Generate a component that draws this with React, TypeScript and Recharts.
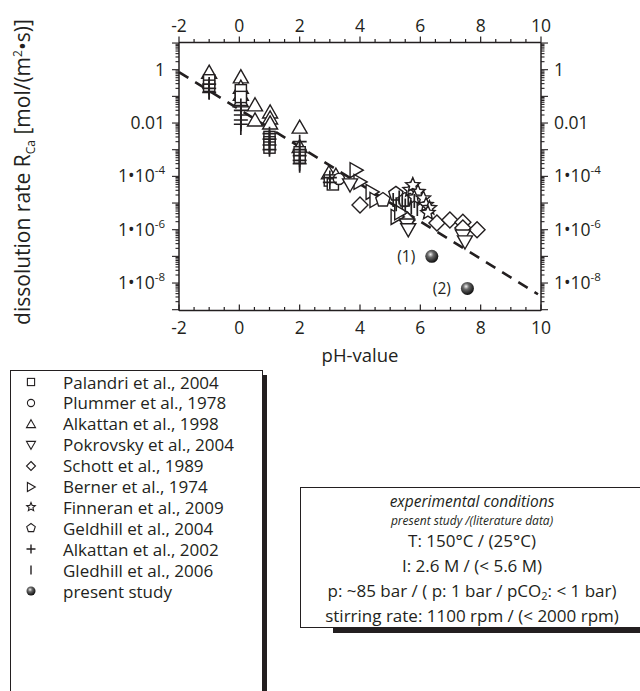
import React from "react";
import { ScatterChart, Scatter, XAxis, YAxis, LabelList } from "recharts";

const INK = "#231f20";
const FONT = "'Open Sans', Lato, sans-serif";

// x: pH-value, y: dissolution rate R_Ca in mol/(m2 s)
const palandri = [
  { ph: -1.0, r: 0.4 }, { ph: -1.0, r: 0.25 },
  { ph: 0.05, r: 0.17 }, { ph: 0.05, r: 0.095 },
  { ph: 1.0, r: 0.003 }, { ph: 1.0, r: 0.0019 }, { ph: 1.0, r: 0.0012 },
  { ph: 2.0, r: 8e-4 }, { ph: 2.0, r: 5e-4 },
  { ph: 3.0, r: 7e-5 }, { ph: 3.1, r: 5e-5 },
];
const plummer = [{ ph: 3.3, r: 8e-5 }, { ph: 5.5, r: 1.2e-5 }];
const alkattan98 = [
  { ph: -1.0, r: 0.8 },
  { ph: 0.05, r: 0.54 }, { ph: 0.05, r: 0.22 }, { ph: 0.05, r: 0.12 }, { ph: 0.05, r: 0.068 },
  { ph: 0.52, r: 0.048 }, { ph: 0.52, r: 0.013 },
  { ph: 1.02, r: 0.026 }, { ph: 1.02, r: 0.0155 }, { ph: 1.02, r: 0.01 },
  { ph: 2.0, r: 0.007 }, { ph: 2.0, r: 0.0013 },
  { ph: 2.97, r: 1.35e-4 }, { ph: 3.2, r: 1.1e-4 },
];
const pokrovsky = [
  { ph: 3.67, r: 4.8e-5 }, { ph: 5.56, r: 1.5e-6 }, { ph: 5.6, r: 1.0e-6 },
  { ph: 7.41, r: 5.8e-7 }, { ph: 7.48, r: 3.5e-7 },
];
const schott = [
  { ph: 4.0, r: 8.5e-6 }, { ph: 5.56, r: 2.3e-6 }, { ph: 6.55, r: 1.8e-6 },
  { ph: 6.98, r: 2.3e-6 }, { ph: 7.41, r: 1.9e-6 }, { ph: 7.41, r: 1.15e-6 }, { ph: 7.88, r: 1.0e-6 },
];
const berner = [
  { ph: 3.87, r: 1.7e-4 }, { ph: 4.0, r: 6.2e-5 }, { ph: 4.4, r: 2.6e-5 },
  { ph: 4.53, r: 1.3e-5 }, { ph: 5.23, r: 3e-6 }, { ph: 5.35, r: 4.5e-6 },
];
const finneran = [
  { ph: 5.66, r: 3.1e-5 }, { ph: 5.75, r: 4.7e-5 }, { ph: 5.92, r: 2.6e-5 }, { ph: 5.8, r: 1.6e-5 },
  { ph: 6.1, r: 1.5e-5 }, { ph: 6.19, r: 8.5e-6 }, { ph: 6.3, r: 6.5e-6 }, { ph: 6.25, r: 4.3e-6 },
];
const geldhill04 = [{ ph: 4.76, r: 1.3e-5 }, { ph: 5.19, r: 2.2e-5 }, { ph: 5.49, r: 1.3e-5 }];
const alkattan02 = [
  { ph: -1.0, r: 0.29 }, { ph: -1.0, r: 0.2 }, { ph: -1.0, r: 0.14 },
  { ph: 0.05, r: 0.045 }, { ph: 0.05, r: 0.03 }, { ph: 0.05, r: 0.02 }, { ph: 0.05, r: 0.013 }, { ph: 0.05, r: 0.009 },
  { ph: 1.0, r: 0.004 }, { ph: 1.0, r: 0.0025 }, { ph: 1.0, r: 0.0015 }, { ph: 1.0, r: 0.001 },
  { ph: 2.0, r: 0.002 }, { ph: 2.0, r: 0.001 }, { ph: 2.0, r: 6e-4 }, { ph: 2.0, r: 4e-4 }, { ph: 2.0, r: 3e-4 },
  { ph: 3.0, r: 9e-5 }, { ph: 3.0, r: 6e-5 },
];
const gledhill06 = [
  { ph: -1.0, r: 0.25 }, { ph: -1.0, r: 0.14 },
  { ph: 0.05, r: 0.031 }, { ph: 0.05, r: 0.011 }, { ph: 0.05, r: 0.0065 },
  { ph: 1.0, r: 0.003 }, { ph: 1.0, r: 0.0012 },
  { ph: 2.0, r: 5e-4 }, { ph: 2.0, r: 2.5e-4 },
  { ph: 5.1, r: 1.3e-5 }, { ph: 5.2, r: 9e-6 }, { ph: 5.3, r: 1.6e-5 }, { ph: 5.4, r: 1.1e-5 },
  { ph: 5.5, r: 8e-6 }, { ph: 5.6, r: 1.4e-5 }, { ph: 5.7, r: 7e-6 }, { ph: 5.8, r: 1.2e-5 }, { ph: 5.9, r: 6e-6 },
];
const presentStudy = [
  { ph: 6.38, r: 1.0e-7, tag: "(1)" },
  { ph: 7.56, r: 6.3e-9, tag: "(2)" },
];
const fitLine = [{ ph: -2, r: 0.81 }, { ph: 9.9, r: 3.8e-9 }];

const legendNames = [
  "Palandri et al., 2004", "Plummer et al., 1978", "Alkattan et al., 1998", "Pokrovsky et al., 2004",
  "Schott et al., 1989", "Berner et al., 1974", "Finneran et al., 2009", "Geldhill et al., 2004",
  "Alkattan et al., 2002", "Gledhill et al., 2006", "present study",
];
const legendKinds = ["square", "circle", "up", "down", "diamond", "right", "star", "pentagon", "plus", "bar", "ball"];

const xLabels = [-2, 0, 2, 4, 6, 8, 10];
const yLabels = [
  { exp: 0, base: "1", sup: "" },
  { exp: -2, base: "0.01", sup: "" },
  { exp: -4, base: "1\u202210", sup: "-4" },
  { exp: -6, base: "1\u202210", sup: "-6" },
  { exp: -8, base: "1\u202210", sup: "-8" },
];

const Y_MIN = Math.pow(10, -9.03);
const Y_MAX = Math.pow(10, 1.02);

const xTicks: number[] = [];
for (let v = -2; v <= 10; v += 0.5) xTicks.push(v);
const yTicks: number[] = [];
for (let k = -10; k <= 1; k++) {
  for (let m = 1; m <= 9; m++) {
    const v = m * Math.pow(10, k);
    if (v >= Y_MIN && v <= Y_MAX) yTicks.push(v);
  }
}

const starPts = (cx: number, cy: number, s: number) => {
  const pts = [];
  for (let i = 0; i < 10; i++) {
    const a = (-90 + i * 36) * Math.PI / 180;
    const rr = i % 2 === 0 ? s : s * 0.45;
    pts.push(`${cx + rr * Math.cos(a)},${cy + rr * Math.sin(a)}`);
  }
  return pts.join(" ");
};
const pentPts = (cx: number, cy: number, s: number) => {
  const pts = [];
  for (let i = 0; i < 5; i++) {
    const a = (-90 + i * 72) * Math.PI / 180;
    pts.push(`${cx + s * Math.cos(a)},${cy + s * Math.sin(a)}`);
  }
  return pts.join(" ");
};

const Marker = ({ kind, cx, cy, s, sw = 1.4, grad = "ballGrad" }: any) => {
  const st = { fill: "#fff", stroke: INK, strokeWidth: sw };
  switch (kind) {
    case "square":
      return <rect x={cx - s * 0.8} y={cy - s * 0.8} width={s * 1.6} height={s * 1.6} {...st} />;
    case "circle":
      return <circle cx={cx} cy={cy} r={s * 0.8} {...st} />;
    case "up":
      return <polygon points={`${cx},${cy - s * 0.95} ${cx + s},${cy + s * 0.8} ${cx - s},${cy + s * 0.8}`} {...st} />;
    case "down":
      return <polygon points={`${cx},${cy + s * 0.95} ${cx + s},${cy - s * 0.8} ${cx - s},${cy - s * 0.8}`} {...st} />;
    case "diamond":
      return <polygon points={`${cx},${cy - s} ${cx + s},${cy} ${cx},${cy + s} ${cx - s},${cy}`} {...st} />;
    case "right":
      return <polygon points={`${cx + s * 0.95},${cy} ${cx - s * 0.8},${cy - s} ${cx - s * 0.8},${cy + s}`} {...st} />;
    case "star":
      return <polygon points={starPts(cx, cy, s)} {...st} />;
    case "pentagon":
      return <polygon points={pentPts(cx, cy, s)} {...st} />;
    case "plus":
      return <path d={`M${cx - s},${cy}H${cx + s}M${cx},${cy - s}V${cy + s}`} stroke={INK} strokeWidth={sw + 0.3} fill="none" />;
    case "bar":
      return <line x1={cx} x2={cx} y1={cy - s} y2={cy + s} stroke={INK} strokeWidth={sw + 0.3} />;
    case "ball":
      return (
        <g>
          <defs>
            <radialGradient id={grad} cx="40%" cy="35%" r="65%">
              <stop offset="0%" stopColor="#f2f2f2" />
              <stop offset="35%" stopColor="#6a6a6a" />
              <stop offset="100%" stopColor="#0d0d0d" />
            </radialGradient>
          </defs>
          <circle cx={cx} cy={cy} r={s} fill={`url(#${grad})`} />
        </g>
      );
    default:
      return <g />;
  }
};

const shapeOf = (kind: string, s: number) => (p: any) => <Marker kind={kind} cx={p.cx} cy={p.cy} s={s} />;

const XTick = ({ x, y, payload, side }: any) => {
  const v = payload.value;
  const labeled = xLabels.includes(v);
  const len = labeled ? 6 : 3.5;
  return (
    <g>
      <line x1={x} x2={x} y1={y} y2={y - len} stroke={INK} strokeWidth={1.2} />
      {labeled && (
        <text x={x} y={side === "top" ? y - 11 : y + 23} textAnchor="middle" fontSize={17.5} fill={INK} fontFamily={FONT}>
          {v}
        </text>
      )}
    </g>
  );
};

const YTick = ({ x, y, payload, side }: any) => {
  const v = payload.value;
  const exp = Math.round(Math.log10(v));
  const major = Math.abs(v / Math.pow(10, exp) - 1) < 1e-6;
  const dir = side === "left" ? -1 : 1;
  const len = major ? 7 : 3.5;
  const lab = major ? yLabels.find((l) => l.exp === exp) : undefined;
  return (
    <g>
      <line x1={x} x2={x + dir * len} y1={y} y2={y} stroke={INK} strokeWidth={1.1} />
      {lab && (
        <text x={side === "left" ? x - 14 : x + 13} y={y + 6} textAnchor={side === "left" ? "end" : "start"}
          fontSize={17.5} fill={INK} fontFamily={FONT}>
          <tspan>{lab.base}</tspan>
          {lab.sup && <tspan dy={-8} fontSize={11.5}>{lab.sup}</tspan>}
        </text>
      )}
    </g>
  );
};

const axisLine = { stroke: INK, strokeWidth: 1.5 };

export default function App() {
  return (
    <div style={{ position: "absolute", left: 0, top: 0, width: 640, height: 691, overflow: "hidden", background: "#fff", fontFamily: FONT, color: INK }}>
      <ScatterChart width={640} height={370} margin={{ top: 12.5, right: 39, bottom: 29.5, left: 119 }}>
        <XAxis xAxisId="b" dataKey="ph" type="number" domain={[-2, 10]} ticks={xTicks} interval={0} height={30}
          tickSize={0} tickMargin={0} tickLine={false} axisLine={axisLine} allowDataOverflow
          tick={(p: any) => <XTick {...p} side="bottom" />} />
        <XAxis xAxisId="t" orientation="top" dataKey="ph" type="number" domain={[-2, 10]} ticks={xTicks} interval={0} height={30}
          tickSize={0} tickMargin={0} tickLine={false} axisLine={axisLine} allowDataOverflow
          tick={(p: any) => <XTick {...p} side="top" />} />
        <YAxis yAxisId="l" dataKey="r" type="number" scale="log" domain={[Y_MIN, Y_MAX]} ticks={yTicks} interval={0} width={60}
          tickSize={0} tickMargin={0} tickLine={false} axisLine={axisLine} allowDataOverflow
          tick={(p: any) => <YTick {...p} side="left" />} />
        <YAxis yAxisId="r" orientation="right" dataKey="r" type="number" scale="log" domain={[Y_MIN, Y_MAX]} ticks={yTicks} interval={0} width={60}
          tickSize={0} tickMargin={0} tickLine={false} axisLine={axisLine} allowDataOverflow
          tick={(p: any) => <YTick {...p} side="right" />} />

        <Scatter data={fitLine} xAxisId="t" yAxisId="r" isAnimationActive={false}
          line={{ stroke: INK, strokeWidth: 2.6, strokeDasharray: "11 8" }} shape={() => <g />} />
        <Scatter data={alkattan98} xAxisId="b" yAxisId="l" isAnimationActive={false} shape={shapeOf("up", 7.5)} />
        <Scatter data={palandri} xAxisId="b" yAxisId="l" isAnimationActive={false} shape={shapeOf("square", 7)} />
        <Scatter data={plummer} xAxisId="b" yAxisId="l" isAnimationActive={false} shape={shapeOf("circle", 7)} />
        <Scatter data={schott} xAxisId="b" yAxisId="l" isAnimationActive={false} shape={shapeOf("diamond", 8)} />
        <Scatter data={berner} xAxisId="b" yAxisId="l" isAnimationActive={false} shape={shapeOf("right", 7.5)} />
        <Scatter data={pokrovsky} xAxisId="b" yAxisId="l" isAnimationActive={false} shape={shapeOf("down", 7.5)} />
        <Scatter data={geldhill04} xAxisId="b" yAxisId="l" isAnimationActive={false} shape={shapeOf("pentagon", 7.5)} />
        <Scatter data={finneran} xAxisId="b" yAxisId="l" isAnimationActive={false} shape={shapeOf("star", 7.5)} />
        <Scatter data={alkattan02} xAxisId="b" yAxisId="l" isAnimationActive={false} shape={shapeOf("plus", 7)} />
        <Scatter data={gledhill06} xAxisId="b" yAxisId="l" isAnimationActive={false} shape={shapeOf("bar", 7)} />
        <Scatter data={presentStudy} xAxisId="b" yAxisId="l" isAnimationActive={false} shape={shapeOf("ball", 6.5)}>
          <LabelList dataKey="tag" position="left" offset={12} fontSize={15.5} fill={INK} fontFamily={FONT} />
        </Scatter>
      </ScatterChart>

      <svg width={640} height={370} style={{ position: "absolute", left: 0, top: 0, pointerEvents: "none" }}>
        <text x={360} y={362} textAnchor="middle" fontSize={18.5} fill={INK} fontFamily={FONT}>pH-value</text>
        <text transform="translate(30,172) rotate(-90)" textAnchor="middle" fontSize={21} fill={INK} fontFamily={FONT}>
          dissolution rate R<tspan dy={5} fontSize={12}>Ca</tspan>
          <tspan dy={-5}> [mol/(m</tspan><tspan dy={-8} fontSize={12}>2</tspan><tspan dy={8}>{"\u2022s)]"}</tspan>
        </text>
      </svg>

      {/* legend */}
      <div style={{ position: "absolute", left: 10, top: 370, width: 251, height: 400, border: `1.3px solid ${INK}`, background: "#fff" }} />
      <div style={{ position: "absolute", left: 262, top: 375, width: 5, height: 400, background: INK }} />
      {legendNames.map((name, i) => (
        <div key={name} style={{ position: "absolute", left: 18, top: 372 + i * 20.9, height: 20, display: "flex", alignItems: "center", fontSize: 17, whiteSpace: "nowrap" }}>
          <svg width={26} height={20} style={{ marginRight: 19 }}>
            <Marker kind={legendKinds[i]} cx={13} cy={10} s={4.5} sw={1.1} grad="legBall" />
          </svg>
          {name}
        </div>
      ))}

      {/* conditions box */}
      <div style={{ position: "absolute", left: 333, top: 628, width: 320, height: 5, background: INK }} />
      <div style={{ position: "absolute", left: 300, top: 487, width: 400, height: 139, border: `1.3px solid ${INK}`, background: "#fff" }} />
      <div style={{ position: "absolute", left: 301, top: 492, width: 342, textAlign: "center", fontSize: 17, lineHeight: "25px" }}>
        <div style={{ fontStyle: "italic", fontSize: 15.5, lineHeight: "18px" }}>experimental conditions</div>
        <div style={{ fontStyle: "italic", fontSize: 12, lineHeight: "14px", marginTop: 4 }}>present study /(literature data)</div>
        <div>T: 150°C / (25°C)</div>
        <div>I: 2.6 M / (&lt; 5.6 M)</div>
        <div>p: ~85 bar / ( p: 1 bar / pCO<sub style={{ fontSize: 11, lineHeight: 0, verticalAlign: "-3px" }}>2</sub>: &lt; 1 bar)</div>
        <div>stirring rate: 1100 rpm / (&lt; 2000 rpm)</div>
      </div>
    </div>
  );
}
